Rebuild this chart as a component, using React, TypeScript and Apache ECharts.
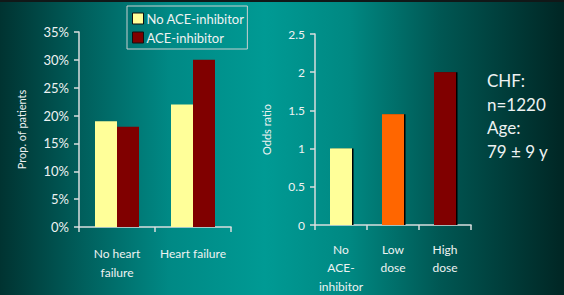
import React, { useEffect, useRef } from "react";
import * as echarts from "echarts";

const leftCategories = ["No heart\nfailure", "Heart failure"];
const noAceValues = [0.19, 0.22];
const aceValues = [0.18, 0.30];
const leftSeriesNames = ["No ACE-inhibitor", "ACE-inhibitor"];
const rightCategories = ["No\nACE-\ninhibitor", "Low\ndose", "High\ndose"];
const oddsValues = [1, 1.45, 2];
const oddsColors = ["#ffff99", "#ff6600", "#800000"];
const infoLines = ["CHF:", "n=1220", "Age:", "79 \u00b1 9 y"];

const FONT = "Lato, 'Open Sans', sans-serif";
const TXT = "#eef2f2";
const shadowText = { textShadowColor: "rgba(0,20,20,0.9)", textShadowOffsetX: 1, textShadowOffsetY: 1, textShadowBlur: 0 };

export default function App() {
  const ref = useRef<HTMLDivElement>(null);
  useEffect(() => {
    if (!ref.current) return;
    const chart = echarts.init(ref.current, null, { renderer: "svg" });
    const axisLine = { show: true, lineStyle: { color: "#d8dede", width: 1.5 } };
    const axisTick = { show: true, length: 5, lineStyle: { color: "#d8dede", width: 1.5 } };
    chart.setOption({
      animation: false,
      backgroundColor: new echarts.graphic.LinearGradient(0, 0, 1, 0, [
        { offset: 0, color: "#003331" },
        { offset: 0.15, color: "#00605d" },
        { offset: 0.3, color: "#008985" },
        { offset: 0.47, color: "#009a94" },
        { offset: 0.62, color: "#008882" },
        { offset: 0.78, color: "#005753" },
        { offset: 1, color: "#002624" },
      ]),
      textStyle: { fontFamily: FONT },
      legend: {
        orient: "vertical",
        left: 127,
        top: 6,
        width: 119,
        data: leftSeriesNames,
        itemWidth: 11,
        itemHeight: 11,
        itemGap: 6,
        padding: [6, 3, 5, 5],
        borderColor: "#c8d0d0",
        borderWidth: 1,
        icon: "rect",
        itemStyle: { borderColor: "#101010", borderWidth: 1 },
        textStyle: { color: TXT, fontSize: 13, fontFamily: FONT, padding: [0, 0, 0, -2], ...shadowText },
      },
      grid: [
        { left: 79, top: 32, width: 152, height: 195, outerBoundsMode: "none", containLabel: false },
        { left: 315, top: 34, width: 156, height: 191, outerBoundsMode: "none", containLabel: false },
      ],
      xAxis: [
        {
          type: "category",
          gridIndex: 0,
          data: leftCategories,
          axisLine,
          axisTick,
          axisLabel: { interval: 0, color: TXT, fontSize: 12, margin: 17, lineHeight: 19, fontFamily: FONT, ...shadowText },
        },
        {
          type: "category",
          gridIndex: 1,
          data: rightCategories,
          axisLine,
          axisTick,
          axisLabel: { interval: 0, color: TXT, fontSize: 12, margin: 15, lineHeight: 18.5, fontFamily: FONT, ...shadowText },
        },
      ],
      yAxis: [
        {
          type: "value",
          gridIndex: 0,
          min: 0,
          max: 0.35,
          interval: 0.05,
          splitLine: { show: false },
          axisLine,
          axisTick,
          axisLabel: {
            color: TXT,
            fontSize: 13,
            margin: 10,
            fontFamily: FONT,
            formatter: (v: number) => Math.round(v * 100) + "%",
            ...shadowText,
          },
          name: "Prop. of patients",
          nameLocation: "middle",
          nameRotate: 90,
          nameGap: 52,
          nameTextStyle: { color: TXT, fontSize: 11, fontFamily: FONT, ...shadowText },
        },
        {
          type: "value",
          gridIndex: 1,
          min: 0,
          max: 2.5,
          interval: 0.5,
          splitLine: { show: false },
          axisLine,
          axisTick,
          axisLabel: { color: TXT, fontSize: 12, margin: 10, fontFamily: FONT, ...shadowText },
          name: "Odds ratio",
          nameLocation: "middle",
          nameRotate: 90,
          nameGap: 43,
          nameTextStyle: { color: TXT, fontSize: 11, fontFamily: FONT, ...shadowText },
        },
      ],
      series: [
        {
          name: leftSeriesNames[0],
          type: "bar",
          xAxisIndex: 0,
          yAxisIndex: 0,
          data: noAceValues,
          barWidth: 22,
          barGap: "0%",
          itemStyle: { color: "#ffff99" },
        },
        {
          name: leftSeriesNames[1],
          type: "bar",
          xAxisIndex: 0,
          yAxisIndex: 0,
          data: aceValues,
          barWidth: 22,
          barGap: "0%",
          itemStyle: { color: "#800000" },
        },
        {
          name: "Odds ratio",
          type: "bar",
          xAxisIndex: 1,
          yAxisIndex: 1,
          barWidth: 22,
          data: oddsValues.map((v, i) => ({ value: v, itemStyle: { color: oddsColors[i] } })),
          itemStyle: { shadowColor: "#000000", shadowOffsetX: 1.5, shadowOffsetY: 0, shadowBlur: 0 },
        },
      ],
      graphic: [
        { type: "rect", left: 0, top: 0, shape: { width: 564, height: 2 }, style: { fill: "#111818" } },
        ...infoLines.map((t, i) => ({
          type: "text",
          left: 487,
          top: 72 + i * 23.5,
          style: { text: t, fill: TXT, fontSize: 17, fontFamily: FONT, ...shadowText },
        })),
      ],
    });
    return () => chart.dispose();
  }, []);
  return <div ref={ref} style={{ position: "absolute", left: 0, top: 0, width: 564, height: 295 }} />;
}
